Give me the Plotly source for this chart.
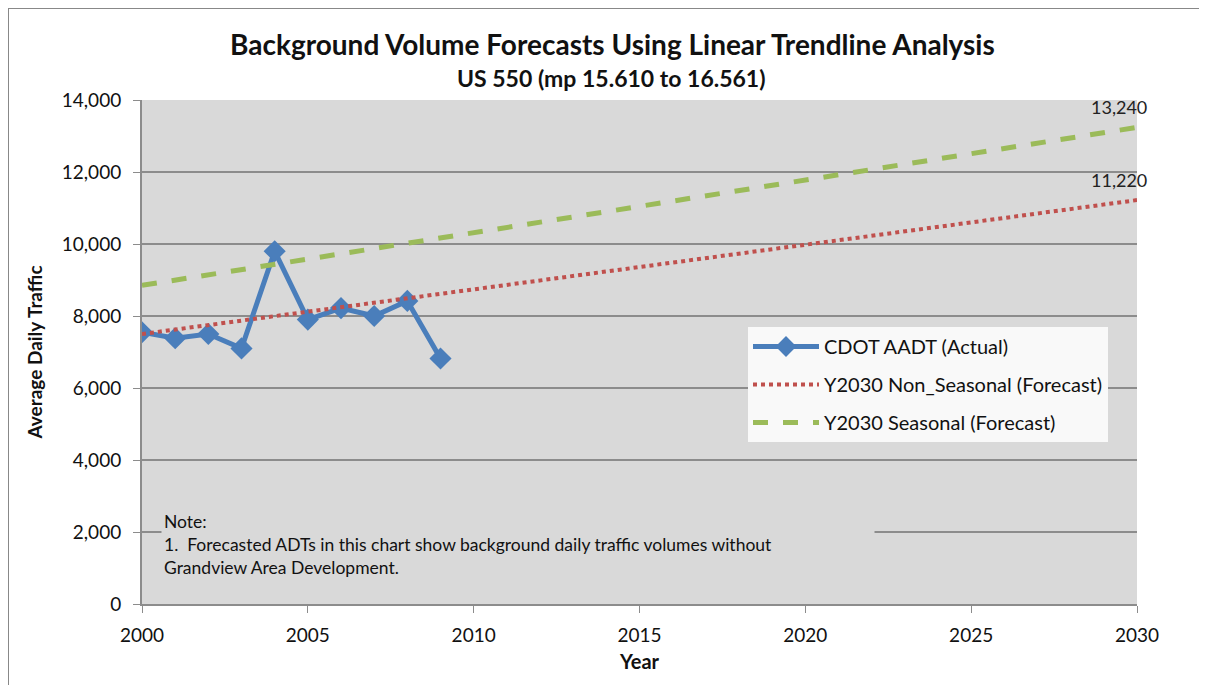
import plotly.graph_objects as go

years = [2000, 2001, 2002, 2003, 2004, 2005, 2006, 2007, 2008, 2009]
actual = [7550, 7380, 7500, 7100, 9800, 7900, 8220, 8000, 8420, 6820]
trend_years = [2000, 2030]
non_seasonal = [7500, 11220]
seasonal = [8850, 13240]
x_ticks = [2000, 2005, 2010, 2015, 2020, 2025, 2030]
y_ticks = [0, 2000, 4000, 6000, 8000, 10000, 12000, 14000]

FONT = "Lato"
GRID = "#8C8C8C"
BG = "#D9D9D9"

# page offset of 8px (body margin): plot area in figure px
L, R, T, B = 134, 1129, 92, 596
W, H = 1199, 677
PW, PH = R - L, B - T


def px(x):
    return (x - 8 - L) / PW


def py(y):
    return (B - (y - 8)) / PH


fig = go.Figure()
fig.add_trace(go.Scatter(
    x=years, y=actual, mode="lines+markers", name="CDOT AADT (Actual)",
    line=dict(color="#4A7EBB", width=5),
    marker=dict(symbol="diamond", size=17, color="#4A7EBB"),
    legendgroup="a"))
fig.add_trace(go.Scatter(
    x=trend_years, y=non_seasonal, mode="lines", name="Y2030 Non_Seasonal (Forecast)",
    line=dict(color="#C0504D", width=4, dash="dot"), legendgroup="b"))
fig.add_trace(go.Scatter(
    x=trend_years, y=seasonal, mode="lines", name="Y2030 Seasonal (Forecast)",
    line=dict(color="#9BBB59", width=5, dash="dash"), legendgroup="c"))

for val in (non_seasonal[-1], seasonal[-1]):
    fig.add_annotation(x=trend_years[-1], y=val, text=f"{val:,}", showarrow=False,
                       xanchor="center", yanchor="bottom", xshift=-18, yshift=7,
                       font=dict(family=FONT, size=18, color="#222"))

fig.add_annotation(
    xref="paper", yref="paper", x=px(161), y=py(508),
    xanchor="left", yanchor="top", align="left", showarrow=False,
    text="Note:<br>1.  Forecasted ADTs in this chart show background daily traffic volumes without<br>Grandview Area Development.",
    font=dict(family=FONT, size=17.5, color="#111"), bgcolor=BG,
    width=(870 - 162), borderpad=2)

fig.add_annotation(xref="paper", yref="paper", x=px(612), y=py(44),
                   text="<b>Background Volume Forecasts Using Linear Trendline Analysis</b>",
                   showarrow=False, xanchor="center", yanchor="middle",
                   font=dict(family=FONT, size=28, color="#111"))
fig.add_annotation(xref="paper", yref="paper", x=px(611), y=py(78),
                   text="<b>US 550 (mp 15.610 to 16.561)</b>",
                   showarrow=False, xanchor="center", yanchor="middle",
                   font=dict(family=FONT, size=23, color="#111"))

fig.add_shape(type="rect", xref="paper", yref="paper",
              x0=px(8), x1=px(1203), y0=py(720), y1=py(8),
              line=dict(color="#888888", width=2), layer="below")

fig.update_layout(
    width=W, height=H,
    margin=dict(l=L, r=W - R, t=T, b=H - B),
    paper_bgcolor="white", plot_bgcolor=BG,
    font=dict(family=FONT, size=19, color="#111"),
    showlegend=True,
    legend=dict(x=px(748), y=py(327), xanchor="left", yanchor="top",
                bgcolor="#F9F9F9", font=dict(family=FONT, size=20, color="#111"),
                tracegroupgap=9, itemwidth=66),
    xaxis=dict(range=[2000, 2030], tickvals=x_ticks, showgrid=False,
               showline=True, linecolor=GRID, linewidth=2, ticks="outside",
               tickcolor=GRID, ticklen=7, zeroline=False, ticklabelstandoff=6,
               title=dict(text="<b>Year</b>", font=dict(family=FONT, size=20), standoff=10),
               tickfont=dict(family=FONT, size=19)),
    yaxis=dict(range=[0, 14000], tickvals=y_ticks, tickformat=",",
               showgrid=True, gridcolor=GRID, gridwidth=2,
               showline=True, linecolor=GRID, linewidth=2, ticks="outside",
               tickcolor=GRID, ticklen=7, zeroline=False, ticklabelstandoff=8,
               title=dict(text="<b>Average Daily Traffic</b>", font=dict(family=FONT, size=19), standoff=14),
               tickfont=dict(family=FONT, size=19)),
)

fig.write_html("out.html")
